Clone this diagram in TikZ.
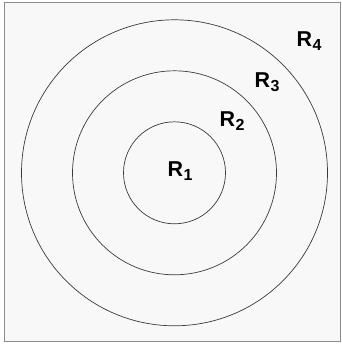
\documentclass[tikz,border=0pt]{standalone}
\usepackage{fontspec}
\setmainfont{Liberation Sans}
\usetikzlibrary{positioning}
\definecolor{panelGray}{HTML}{F8F8F8}
\definecolor{frameGray}{HTML}{8C8C8C}
\definecolor{ringGray}{HTML}{3A3A3A}
\newcommand\regsub[1]{\kern0.5pt\raisebox{-4.5pt}{\fontsize{16}{16}\selectfont#1}}
\tikzset{
  region/.style={font=\fontsize{21.5}{21.5}\selectfont\bfseries, inner sep=0pt},
  ring/.style={draw=ringGray, line width=0.7pt}
}
\begin{document}
\begin{tikzpicture}[x=1pt, y=-1pt]
  \useasboundingbox (0,0) rectangle (341,346);
  \filldraw[fill=panelGray, draw=frameGray, line width=1pt] (4,2) rectangle (340,341);
  \coordinate (ctr) at (174.5,172.8);
  \foreach \r in {51,102,153}
    \draw[ring] (ctr) circle [radius=\r pt];
  \node[region] (r1) at (180,171) {R\regsub{1}};
  \node[region] (r2) at (232,121) {R\regsub{2}};
  \node[region] (r3) at (267,82) {R\regsub{3}};
  \node[region] (r4) at (309,41) {R\regsub{4}};
\end{tikzpicture}
\end{document}
